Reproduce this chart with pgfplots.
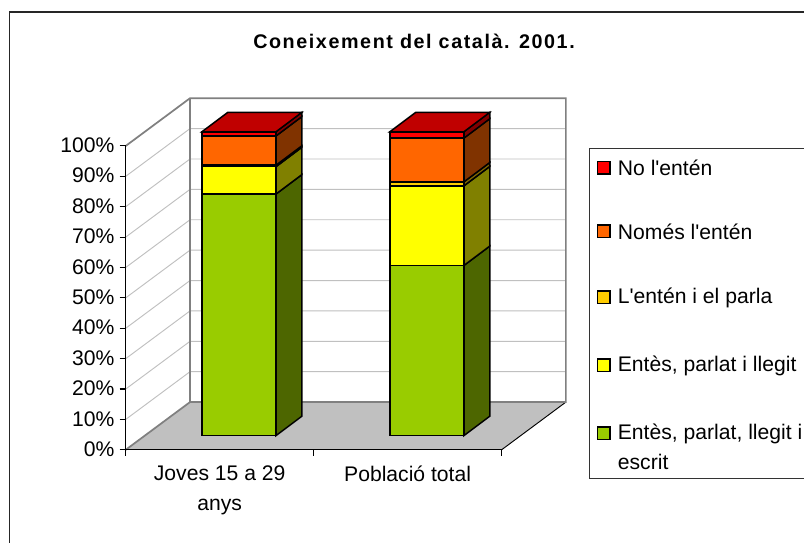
\documentclass[border=0pt]{standalone}
\usepackage{fontspec}
\setmainfont{Liberation Sans}[Ligatures=TeXOff]
\usepackage{pgfplots}
\pgfplotsset{compat=1.18}
\definecolor{cgreen}{HTML}{99CC00}
\definecolor{cyellow}{HTML}{FFFF00}
\definecolor{cgold}{HTML}{FFCC00}
\definecolor{corange}{HTML}{FF6600}
\definecolor{cred}{HTML}{FF0000}
\definecolor{sgreen}{HTML}{4D6600}
\definecolor{syellow}{HTML}{808000}
\definecolor{sgold}{HTML}{806600}
\definecolor{sorange}{HTML}{803300}
\definecolor{sred}{HTML}{800000}
\definecolor{ctop}{HTML}{C00000}
\definecolor{wall}{HTML}{808080}
\definecolor{gridc}{HTML}{C0C0C0}
\newcommand{\chartfont}{\fontsize{15.85pt}{22.5pt}\selectfont}
\pgfplotsset{
  chartbox/.style={
    scale only axis, width=281.9pt, height=227.9pt,
    xmin=-0.5, xmax=1.5, ymin=0, ymax=100,
    clip=false, anchor=south west
  },
  face/.style={draw=black, line width=1.1pt, line join=miter, mark=none, fill=#1},
  swatch/.style={
    legend image code/.code={
      \draw[draw=black, line width=1pt, fill=#1] (0pt,-4.5pt) rectangle (9.5pt,5pt);
    }
  },
  swatchtwo/.style={
    legend image code/.code={
      \draw[draw=black, line width=1pt, fill=#1] (0pt,4.3pt) rectangle (9.5pt,13.8pt);
    }
  }
}
\begin{document}
\begin{tikzpicture}
\useasboundingbox (0pt,0pt) rectangle (603pt,407.25pt);
\draw[black!85, line width=1.1pt] (7.2pt,-10pt) -- (7.2pt,398.2pt) -- (620pt,398.2pt);

% walls, floor, axes and legend
\begin{axis}[
  chartbox,
  at={(94.3pt,69.9pt)},
  axis on top,
  axis x line=bottom, axis y line=left,
  axis line style={-, black, line width=0.9pt},
  tick style={black, line width=0.8pt},
  tick align=outside,
  major tick length=4.5pt,
  ytick={0,10,20,30,40,50,60,70,80,90,100},
  yticklabel={\pgfmathprintnumber{\tick}\%},
  /pgf/number format/assume math mode=true,
  yticklabel style={font=\chartfont, xshift=-0.5pt, yshift=0.5pt},
  xtick={-0.5,0.5,1.5},
  x tick label as interval,
  xticklabels={{Joves 15 a 29\\anys},{Població total}},
  xticklabel style={font=\chartfont, align=center, yshift=-4.2pt},
  title={\addfontfeature{LetterSpace=8}Coneixement del català. 2001.},
  title style={font=\fontsize{14.8pt}{17pt}\selectfont\bfseries, at={(0.767,1.293)}, anchor=base},
  legend style={
    at={(1.2317,0.9924)}, anchor=north west,
    draw=black!80, line width=0.8pt, fill=white,
    font=\chartfont, inner xsep=5.5pt, inner ysep=6.5pt, row sep=32pt,
    column sep=3.5pt, nodes={text depth=}
  },
  legend cell align=left,
]
% left wall and back wall
\addplot[forget plot, fill=white, draw=none] coordinates {(-0.5,0)(-0.158,15.7)(-0.158,115.7)(-0.5,100)} --cycle;
\addplot[forget plot, fill=white, draw=none] coordinates {(-0.158,15.7)(1.842,15.7)(1.842,115.7)(-0.158,115.7)} --cycle;
% grid lines
\addplot[forget plot, gridc, line width=0.7pt] coordinates {(-0.5,10)(-0.158,25.7)(1.842,25.7)};
\addplot[forget plot, gridc, line width=0.7pt] coordinates {(-0.5,20)(-0.158,35.7)(1.842,35.7)};
\addplot[forget plot, gridc, line width=0.7pt] coordinates {(-0.5,30)(-0.158,45.7)(1.842,45.7)};
\addplot[forget plot, gridc, line width=0.7pt] coordinates {(-0.5,40)(-0.158,55.7)(1.842,55.7)};
\addplot[forget plot, gridc, line width=0.7pt] coordinates {(-0.5,50)(-0.158,65.7)(1.842,65.7)};
\addplot[forget plot, gridc, line width=0.7pt] coordinates {(-0.5,60)(-0.158,75.7)(1.842,75.7)};
\addplot[forget plot, gridc, line width=0.7pt] coordinates {(-0.5,70)(-0.158,85.7)(1.842,85.7)};
\addplot[forget plot, gridc, line width=0.7pt] coordinates {(-0.5,80)(-0.158,95.7)(1.842,95.7)};
\addplot[forget plot, gridc, line width=0.7pt] coordinates {(-0.5,90)(-0.158,105.7)(1.842,105.7)};
% floor
\addplot[forget plot, fill=gridc, draw=none] coordinates {(-0.5,0)(-0.158,15.7)(1.842,15.7)(1.5,0)} --cycle;
\addplot[forget plot, black, line width=0.7pt] coordinates {(1.5,0)(1.842,15.7)};
% wall borders
\addplot[forget plot, wall, line width=1.3pt] coordinates {(-0.5,0)(-0.158,15.7)(1.842,15.7)(1.842,115.7)(-0.158,115.7)(-0.5,100)};
\addplot[forget plot, wall, line width=1.3pt] coordinates {(-0.158,15.7)(-0.158,115.7)};
% legend, top entry first
\addlegendimage{swatch=cred}
\addlegendentry{No l'entén}
\addlegendimage{swatch=corange}
\addlegendentry{Només l'entén}
\addlegendimage{swatch=cgold}
\addlegendentry{L'entén i el parla}
\addlegendimage{swatch=cyellow}
\addlegendentry{Entès, parlat i llegit}
\addlegendimage{swatchtwo=cgreen}
\addlegendentry{\parbox[t]{150pt}{Entès, parlat, llegit i\\escrit\par\vspace*{-1.7pt}}}
\end{axis}

% side and top faces of the columns
\begin{axis}[chartbox, at={(108.7pt,80.5pt)}, hide axis]
\addplot[face=sgreen] coordinates {(0.197,0)(0.335,6.4)(0.335,85.9)(0.197,79.5)} --cycle;
\addplot[face=syellow] coordinates {(0.197,79.5)(0.335,85.9)(0.335,94.9)(0.197,88.5)} --cycle;
\addplot[face=sgold] coordinates {(0.197,88.5)(0.335,94.9)(0.335,95.4)(0.197,89.0)} --cycle;
\addplot[face=sorange] coordinates {(0.197,89.0)(0.335,95.4)(0.335,105.0)(0.197,98.6)} --cycle;
\addplot[face=sred] coordinates {(0.197,98.6)(0.335,105.0)(0.335,106.4)(0.197,100)} --cycle;
\addplot[face=ctop] coordinates {(-0.197,100)(-0.059,106.4)(0.335,106.4)(0.197,100)} --cycle;
\addplot[face=sgreen] coordinates {(1.197,0)(1.335,6.4)(1.335,62.4)(1.197,56.0)} --cycle;
\addplot[face=syellow] coordinates {(1.197,56.0)(1.335,62.4)(1.335,88.6)(1.197,82.2)} --cycle;
\addplot[face=sgold] coordinates {(1.197,82.2)(1.335,88.6)(1.335,89.9)(1.197,83.5)} --cycle;
\addplot[face=sorange] coordinates {(1.197,83.5)(1.335,89.9)(1.335,104.3)(1.197,97.9)} --cycle;
\addplot[face=sred] coordinates {(1.197,97.9)(1.335,104.3)(1.335,106.4)(1.197,100)} --cycle;
\addplot[face=ctop] coordinates {(0.803,100)(0.941,106.4)(1.335,106.4)(1.197,100)} --cycle;
\end{axis}

% front faces of the columns
\begin{axis}[chartbox, at={(108.7pt,80.5pt)}, hide axis, ybar stacked, bar width=55.5pt]
\addplot[draw=black, line width=1.1pt, fill=cgreen] coordinates {(0,79.5)(1,56.0)};
\addplot[draw=black, line width=1.1pt, fill=cyellow] coordinates {(0,9.0)(1,26.2)};
\addplot[draw=black, line width=1.1pt, fill=cgold] coordinates {(0,0.5)(1,1.3)};
\addplot[draw=black, line width=1.1pt, fill=corange] coordinates {(0,9.6)(1,14.4)};
\addplot[draw=black, line width=1.1pt, fill=cred] coordinates {(0,1.4)(1,2.1)};
\end{axis}
\end{tikzpicture}
\end{document}
